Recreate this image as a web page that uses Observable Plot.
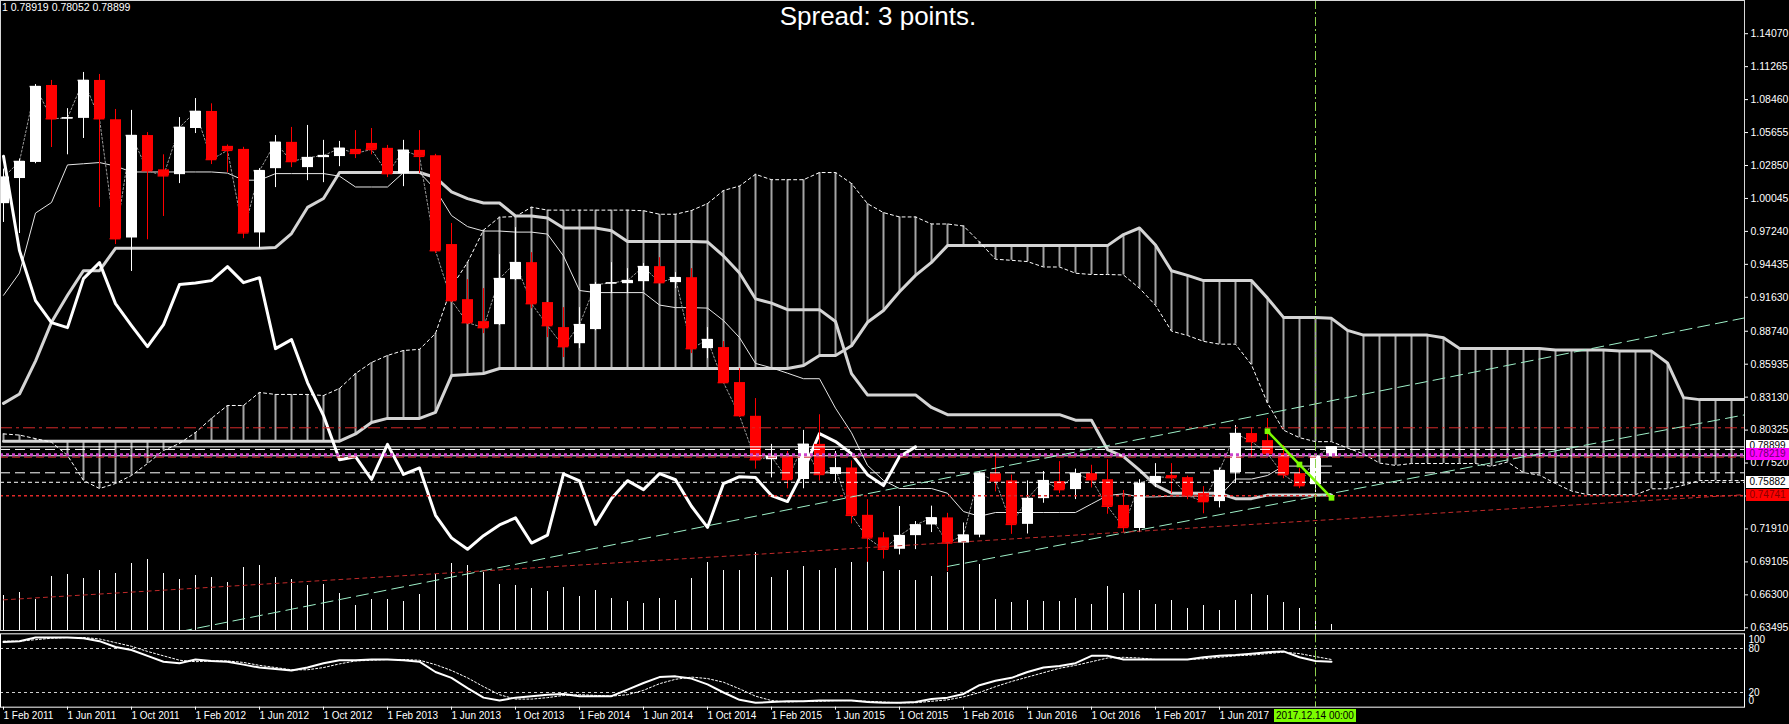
<!DOCTYPE html>
<html>
<head>
<meta charset="utf-8">
<script src="https://cdn.jsdelivr.net/npm/d3@7"></script>
<script src="https://cdn.jsdelivr.net/npm/@observablehq/plot@0.6"></script>
<style>
  html, body { margin: 0; padding: 0; background: #000; }
  #wrap { position: relative; width: 1789px; height: 724px; overflow: hidden; background: #000; font-family: 'Liberation Sans', Arial, sans-serif; }
  #wrap svg { position: absolute; left: 0; }
  .box { position: absolute; font-size: 10px; line-height: 12px; height: 12px; text-align: center; }
</style>
</head>
<body>
<div id="wrap"></div>
<script>
// ---------- DATA (monthly bars, index 0 = Feb 2011) ----------
const headerText = "1 0.78919 0.78052 0.78899";
const titleText = "Spread: 3 points.";

const priceLabels = ["1.14070","1.11265","1.08460","1.05655","1.02850","1.00045","0.97240","0.94435","0.91630","0.88740","0.85935","0.83130","0.80325","0.77520","0.74715","0.71910","0.69105","0.66300","0.63495"];
const xLabels = ["1 Feb 2011","1 Jun 2011","1 Oct 2011","1 Feb 2012","1 Jun 2012","1 Oct 2012","1 Feb 2013","1 Jun 2013","1 Oct 2013","1 Feb 2014","1 Jun 2014","1 Oct 2014","1 Feb 2015","1 Jun 2015","1 Oct 2015","1 Feb 2016","1 Jun 2016","1 Oct 2016","1 Feb 2017","1 Jun 2017"];
const xLabelBars = [0,4,8,12,16,20,24,28,32,36,40,44,48,52,56,60,64,68,72,76];
const markerLabel = "2017.12.14 00:00";
const markerBars = [82];
const stochLevels = [20, 80];

const open = [
0.9960,1.0174,1.0311,1.0966,1.0683,1.0686,1.1009,1.0675,0.9667,1.0540,
1.0248,1.0207,1.0600,1.0745,1.0448,1.0422,0.9711,1.0258,1.0482,1.0267,
1.0352,1.0361,1.0422,1.0473,1.0431,1.0216,1.0414,1.0369,0.9612,0.9143,
0.8956,0.8930,0.9313,0.9458,0.9118,0.8905,0.8768,0.8888,0.9280,0.9279,
0.9296,0.9424,0.9288,0.9330,0.8726,0.8735,0.8437,0.8150,0.7780,0.7806,
0.7612,0.7911,0.7655,0.7710,0.7307,0.7115,0.7018,0.7134,0.7225,0.7285,
0.7071,0.7138,0.7660,0.7600,0.7230,0.7449,0.7594,0.7526,0.7662,0.7610,
0.7391,0.7195,0.7577,0.7645,0.7628,0.7492,0.7424,0.7671,0.8003,0.7943,
0.7832,0.7662,0.7568,0.78061];
const high = [
1.0255,1.0340,1.0974,1.1009,1.0769,1.1077,1.1060,1.0762,1.0754,1.0565,
1.0376,1.0693,1.0855,1.0810,1.0460,1.0440,1.0258,1.0540,1.0609,1.0626,
1.0499,1.0490,1.0582,1.0600,1.0456,1.0499,1.0582,1.0380,0.9791,0.9313,
0.9237,0.9526,0.9756,0.9543,0.9118,0.9075,0.9075,0.9288,0.9458,0.9407,
0.9450,0.9500,0.9373,0.9407,0.8905,0.8786,0.8556,0.8301,0.7911,0.7850,
0.8030,0.8163,0.7850,0.7770,0.7440,0.7160,0.7382,0.7254,0.7385,0.7324,
0.7242,0.7680,0.7835,0.7650,0.7600,0.7680,0.7764,0.7700,0.7733,0.7780,
0.7518,0.7610,0.7747,0.7747,0.7640,0.7551,0.7710,0.8071,0.8054,0.8131,
0.7901,0.7704,0.7807,0.78919];
const low = [
0.9800,0.9706,1.0300,1.0438,1.0376,1.0515,0.9927,0.9612,0.9383,0.9653,
0.9851,1.0131,1.0557,1.0293,1.0224,0.9662,0.9577,1.0097,1.0267,1.0156,
1.0139,1.0275,1.0344,1.0376,1.0182,1.0105,1.0216,0.9535,0.9118,0.8930,
0.8854,0.8922,0.9305,0.9066,0.8820,0.8650,0.8726,0.8879,0.9194,0.9194,
0.9220,0.9279,0.9237,0.8684,0.8641,0.8429,0.8139,0.7700,0.7626,0.7533,
0.7533,0.7599,0.7593,0.7234,0.6907,0.6935,0.6970,0.7015,0.7160,0.6827,
0.6973,0.7116,0.7507,0.7145,0.7148,0.7410,0.7492,0.7441,0.7540,0.7316,
0.7161,0.7160,0.7543,0.7491,0.7440,0.7320,0.7370,0.7577,0.7799,0.7807,
0.7619,0.7534,0.7500,0.78052];
const close = [
1.0185,1.0319,1.0957,1.0683,1.0690,1.1009,1.0683,0.9662,1.0540,1.0241,
1.0197,1.0609,1.0745,1.0336,1.0414,0.9711,1.0241,1.0482,1.0319,1.0352,
1.0369,1.0431,1.0388,1.0422,1.0216,1.0414,1.0363,0.9560,0.9135,0.8947,
0.8905,0.9322,0.9458,0.9109,0.8922,0.8743,0.8930,0.9271,0.9285,0.9305,
0.9424,0.9288,0.9330,0.8726,0.8803,0.8437,0.8156,0.7780,0.7806,0.7612,
0.7911,0.7655,0.7710,0.7307,0.7115,0.7018,0.7134,0.7225,0.7285,0.7071,
0.7138,0.7660,0.7600,0.7230,0.7450,0.7602,0.7526,0.7662,0.7610,0.7384,
0.7204,0.7577,0.7636,0.7628,0.7475,0.7424,0.7688,0.8003,0.7935,0.7832,
0.7653,0.7560,0.7806,0.78899];

const volume = [
35,38,31,54,56,52,60,57,67,71,
57,51,55,53,48,63,65,53,51,45,
46,37,25,31,31,29,36,56,67,65,
58,46,45,42,39,43,34,40,32,29,
27,32,30,52,68,60,60,78,53,60,
64,60,62,68,74,59,60,50,54,58,
80,66,31,28,30,29,29,32,26,44,
37,40,26,30,22,25,20,30,36,35,
28,22,18,6];

const tenkan = [
0.918,0.937,0.988,0.997,1.029,1.030,1.031,1.028,1.023,1.023,
1.023,1.023,1.023,1.023,1.022,1.016,1.016,1.0216,1.0216,1.0216,
1.0216,1.0194,1.0102,1.0102,1.0102,1.0225,1.0225,1.0080,0.9859,0.9765,
0.9727,0.9727,0.9718,0.9718,0.9701,0.9515,0.9221,0.9203,0.9203,0.9203,
0.9203,0.9097,0.9075,0.9075,0.9071,0.8965,0.8820,0.8600,0.8563,0.8517,
0.8470,0.8470,0.8219,0.8010,0.7732,0.7604,0.7535,0.7535,0.7535,0.7495,
0.7339,0.7299,0.7331,0.7331,0.7331,0.7331,0.7331,0.7331,0.7404,0.7476,
0.7490,0.7463,0.7464,0.7470,0.7470,0.7470,0.7470,0.7616,0.7616,0.7646,
0.7726,0.7726,0.7726,0.7726];
const kijun = [
0.826,0.834,0.862,0.895,0.918,0.939,0.939,0.958,0.958,0.958,
0.958,0.958,0.958,0.958,0.958,0.958,0.958,0.9587,0.9706,0.9928,
1.0004,1.0225,1.0225,1.0225,1.0225,1.0225,1.0225,1.0183,1.0060,1.0003,
0.9966,0.9966,0.9855,0.9855,0.9838,0.9753,0.9753,0.9753,0.9730,0.9638,
0.9638,0.9638,0.9638,0.9638,0.9634,0.9515,0.9370,0.9150,0.9113,0.9058,
0.9058,0.9058,0.8957,0.8513,0.8332,0.8332,0.8332,0.8332,0.8225,0.8164,
0.8164,0.8164,0.8164,0.8164,0.8164,0.8164,0.8164,0.8117,0.8117,0.7866,
0.7807,0.7692,0.7564,0.7495,0.7495,0.7495,0.7495,0.7449,0.7449,0.7479,
0.7479,0.7479,0.7479,0.7479];
const spanA = [
0.800,0.799,0.796,0.793,0.7816,0.7604,0.7535,0.7578,0.7646,0.7748,
0.7859,0.7919,0.8012,0.8132,0.8242,0.8242,0.8353,0.8336,0.8336,0.8336,
0.8327,0.8387,0.8514,0.8608,0.8668,0.8710,0.872,0.8855,0.925,0.946,
0.9735,0.9845,0.985,0.993,0.9905,0.9905,0.9905,0.9905,0.9905,0.9905,
0.990,0.987,0.987,0.9902,0.9961,1.0072,1.011,1.0210,1.0164,1.0164,
1.0164,1.0225,1.0225,1.0132,0.9960,0.9884,0.9847,0.9847,0.9787,0.9787,
0.9770,0.9634,0.9487,0.9478,0.9467,0.9421,0.9421,0.9368,0.9357,0.9357,
0.9353,0.9240,0.9095,0.8875,0.8838,0.8788,0.8764,0.8764,0.8588,0.8262,
0.8032,0.7968,0.7934,0.7934,0.7880,0.7830,0.7752,0.7732,0.7748,0.7748,
0.7748,0.7748,0.7748,0.7724,0.7761,0.7671,0.7649,0.7578,0.7514,0.7483,
0.7483,0.7483,0.7483,0.7533,0.7533,0.7563,0.7603,0.7603,0.7603,0.7603];
const spanB = [
0.7938,0.7938,0.7938,0.7938,0.7938,0.7938,0.7938,0.7938,0.7938,0.7938,
0.7938,0.7938,0.7938,0.7938,0.7938,0.7938,0.7938,0.7938,0.7938,0.7938,
0.7938,0.7938,0.8000,0.8097,0.8132,0.8132,0.8132,0.8183,0.8497,0.8505,
0.8514,0.8557,0.8557,0.8557,0.8557,0.8557,0.8557,0.8557,0.8557,0.8557,
0.8557,0.8557,0.8557,0.8557,0.8557,0.8557,0.8557,0.8557,0.8557,0.8557,
0.8583,0.8668,0.8668,0.8750,0.8950,0.9050,0.9210,0.9350,0.9460,0.9603,
0.9603,0.9603,0.9603,0.9603,0.9603,0.9603,0.9603,0.9603,0.9603,0.9603,
0.9697,0.9753,0.9608,0.9389,0.9350,0.9305,0.9305,0.9305,0.9305,0.9156,
0.8992,0.8992,0.8992,0.8984,0.8881,0.8841,0.8841,0.8841,0.8841,0.8841,
0.8819,0.8727,0.8727,0.8727,0.8727,0.8727,0.8727,0.8714,0.8714,0.8714,
0.8714,0.8705,0.8705,0.8705,0.8604,0.8309,0.8292,0.8292,0.8292,0.8292];

const stochMain = [
89,90,95,95,95,94,90,82,78,70,
62,60,65,63,62,58,54,52,50,54,
60,64,64,65,65,64,62,48,40,26,
13,9,13,15,17,18,15,15,15,24,
33,41,42,39,31,20,10,6,7,8,
8,9,9,9,7,6,6,7,11,13,
18,30,36,40,48,54,56,60,70,70,
65,65,65,65,65,68,70,71,73,75,
76,68,63,62];
const stochSignal = [
90,90,92,94,95,95,93,88,83,76,
70,64,62,63,63,61,57,54,51,51,
54,59,63,64,65,65,64,58,50,40,
28,17,11,11,13,16,17,16,15,17,
23,32,38,41,39,34,25,15,9,7,
8,8,9,9,8,7,6,6,8,10,
14,20,28,35,41,47,53,57,62,67,
68,67,65,65,65,66,68,70,71,73,
75,73,69,65];

// horizontal levels (price)
const redDashDotLevels = [0.80521];
const whiteSolidLevels = [0.78899, 0.7814];
const whiteLongDashLevels = [0.78676, 0.76689];
const magentaLevels = [0.78219];
const redDashLevels = [0.78018];
const whiteShortDashLevels = [0.75882];
const redDotLevels = [0.74741];
// trend lines: [bar index, price]
const upperChannel = [[0, 0.6016], [110, 0.9020]];
const lowerChannel = [[59, 0.68716], [110, 0.81928]];
const redTrend = [[-1, 0.65792], [110, 0.74927]];
const limeSegment = [[79, 0.8023], [81, 0.77395], [83, 0.7456]];

// ---------- BUILD ----------
const W = 1789;
const barDomain = [-0.1875, 108.8125];
const priceDomain = [0.63265, 1.16896];
const bars = open.map((o, i) => ({i, o, h: high[i], l: low[i], c: close[i]}));
const bulls = bars.filter(d => d.c >= d.o);
const bears = bars.filter(d => d.c < d.o);
const ind = tenkan.map((t, i) => ({i, t, k: kijun[i]}));
const cloud = spanA.map((a, i) => ({i, a, b: spanB[i]}));
const chikou = close.slice(26).map((p, k) => ({i: k, p}));
const vols = volume.map((v, i) => ({i, v}));
const toPts = arr => arr.map(([i, p]) => ({i, p}));
const stoch = stochMain.map((m, i) => ({i, m, s: stochSignal[i]}));
const labelOf = new Map(priceLabels.map(s => [Number(s), s]));
const xLabelOf = new Map(xLabelBars.map((b, k) => [b, xLabels[k]]));
const font = "'Liberation Sans', Arial, sans-serif";
const baseStyle = {background: "transparent", color: "white", fontFamily: font, fontSize: "10px", overflow: "visible"};

const wrap = document.getElementById("wrap");

// volume layer (under price chart)
const volPlot = Plot.plot({
  width: W, height: 632, marginLeft: 0, marginRight: 45, marginTop: 0, marginBottom: 2,
  x: {domain: barDomain, axis: null},
  y: {domain: [0, 630], axis: null},
  style: baseStyle,
  marks: [
    Plot.ruleX(vols, {x: "i", y1: 0, y2: "v", stroke: "#ffffff", strokeWidth: 1})
  ]
});
volPlot.style.top = "0px";
wrap.appendChild(volPlot);

const main = Plot.plot({
  width: W, height: 632, marginLeft: 0, marginRight: 45, marginTop: 0, marginBottom: 2,
  x: {domain: barDomain, axis: null},
  y: {domain: priceDomain, axis: null},
  style: baseStyle,
  marks: [
    // cloud
    Plot.ruleX(cloud, {x: "i", y1: "a", y2: "b", stroke: "#a4a4a4", strokeWidth: 2, clip: true}),
    Plot.line(cloud, {x: "i", y: "b", stroke: "#d4d4d4", strokeWidth: 3, clip: true}),
    Plot.line(cloud, {x: "i", y: "a", stroke: "#ffffff", strokeWidth: 1, strokeDasharray: "3,3", clip: true}),
    // kijun / tenkan / close line
    Plot.line(ind, {x: "i", y: "k", stroke: "#d4d4d4", strokeWidth: 3}),
    Plot.line(ind, {x: "i", y: "t", stroke: "#e6e6e6", strokeWidth: 1}),
    Plot.line(bars, {x: "i", y: "c", stroke: "#9a9a9a", strokeWidth: 1, strokeDasharray: "2,2"}),
    // chikou
    Plot.line(chikou, {x: "i", y: "p", stroke: "#ffffff", strokeWidth: 3}),
    // candles
    Plot.ruleX(bulls, {x: "i", y1: "l", y2: "h", stroke: "#ffffff", strokeWidth: 1}),
    Plot.ruleX(bears, {x: "i", y1: "l", y2: "h", stroke: "#ff0000", strokeWidth: 1}),
    Plot.ruleX(bulls, {x: "i", y1: "o", y2: "c", stroke: "#ffffff", strokeWidth: 11}),
    Plot.ruleX(bears, {x: "i", y1: "o", y2: "c", stroke: "#ff0000", strokeWidth: 11}),
    Plot.ruleY(bulls, {y: "c", x1: d => d.i - 0.34, x2: d => d.i + 0.34, stroke: "#ffffff", strokeWidth: 1.5}),
    Plot.ruleY(bears, {y: "c", x1: d => d.i - 0.34, x2: d => d.i + 0.34, stroke: "#ff0000", strokeWidth: 1.5}),
    // horizontal levels
    Plot.ruleY(redDashDotLevels, {stroke: "#d42a2a", strokeWidth: 1, strokeDasharray: "12,4,3,4"}),
    Plot.ruleY(whiteSolidLevels, {stroke: "#ffffff", strokeWidth: 1}),
    Plot.ruleY(whiteLongDashLevels, {stroke: "#ffffff", strokeWidth: 1, strokeDasharray: "10,5"}),
    Plot.ruleY(redDashLevels, {stroke: "#d02a2a", strokeWidth: 1, strokeDasharray: "8,4"}),
    Plot.ruleY(magentaLevels, {stroke: "#cc44cc", strokeWidth: 3, strokeDasharray: "3,3"}),
    Plot.ruleY(whiteShortDashLevels, {stroke: "#ffffff", strokeWidth: 1, strokeDasharray: "4,3"}),
    Plot.ruleY(redDotLevels, {stroke: "#e02828", strokeWidth: 1.5, strokeDasharray: "3,3"}),
    // trend lines
    Plot.line(toPts(upperChannel), {x: "i", y: "p", stroke: "#9ef0c8", strokeWidth: 1, strokeDasharray: "12,6", clip: true}),
    Plot.line(toPts(lowerChannel), {x: "i", y: "p", stroke: "#9ef0c8", strokeWidth: 1, strokeDasharray: "12,6", clip: true}),
    Plot.line(toPts(redTrend), {x: "i", y: "p", stroke: "#c02a2a", strokeWidth: 1, strokeDasharray: "4,4", clip: true}),
    Plot.line(toPts(limeSegment), {x: "i", y: "p", stroke: "#7cfc00", strokeWidth: 2.5}),
    Plot.dot(toPts(limeSegment), {x: "i", y: "p", symbol: "square", r: 3.2, fill: "#7cfc00", stroke: "none"}),
    // time marker
    Plot.ruleX(markerBars, {stroke: "#8fd14f", strokeWidth: 1, strokeDasharray: "9,3,2,3"}),
    Plot.frame({stroke: "#d8d8d8"}),
    Plot.axisY({anchor: "right", ticks: priceLabels.map(Number), tickFormat: d => labelOf.get(d), tickSize: 3, tickPadding: 3, color: "white", fontSize: 10.5, label: null})
  ]
});
main.style.top = "0px";
wrap.appendChild(main);

const stochPlot = Plot.plot({
  width: W, height: 92, marginLeft: 0, marginRight: 45, marginTop: 1.33, marginBottom: 17.33,
  x: {domain: barDomain, axis: null},
  y: {domain: [0, 100], axis: null},
  style: baseStyle,
  marks: [
    Plot.ruleY(stochLevels, {stroke: "#d0d0d0", strokeWidth: 1, strokeDasharray: "3,3"}),
    Plot.line(stoch, {x: "i", y: "s", stroke: "#ffffff", strokeWidth: 1, strokeDasharray: "2,2"}),
    Plot.line(stoch, {x: "i", y: "m", stroke: "#ffffff", strokeWidth: 2}),
    Plot.ruleX(markerBars, {stroke: "#8fd14f", strokeWidth: 1, strokeDasharray: "9,3,2,3"}),
    Plot.frame({stroke: "#ffffff"}),
    Plot.axisX({anchor: "bottom", ticks: xLabelBars, tickFormat: d => xLabelOf.get(d), tickSize: 3, tickPadding: 2, textAnchor: "start", color: "white", fontSize: 10, label: null}),
    Plot.text([100], {y: d => d, text: d => String(d), frameAnchor: "right", dx: 4, dy: 6, textAnchor: "start", fill: "white", fontSize: 10}),
    Plot.text(stochLevels, {y: d => d, text: d => String(d), frameAnchor: "right", dx: 4, textAnchor: "start", fill: "white", fontSize: 10}),
    Plot.text([0], {y: d => d, text: d => String(d), frameAnchor: "right", dx: 4, dy: -6, textAnchor: "start", fill: "white", fontSize: 10})
  ]
});
stochPlot.style.top = "632px";
wrap.appendChild(stochPlot);

// right-axis price boxes (positioned through the plot's y scale)
const ys = main.scale("y");
function addBox(value, bg, fg) {
  const d = document.createElement("div");
  d.className = "box";
  d.style.left = "1746px";
  d.style.width = "43px";
  d.style.top = (ys.apply(value) - 6) + "px";
  d.style.background = bg;
  d.style.color = fg;
  d.textContent = value.toFixed(5);
  wrap.appendChild(d);
}
whiteSolidLevels.slice(0, 1).forEach(v => addBox(v, "#ffffff", "#000000"));
magentaLevels.forEach(v => addBox(v, "#ff00ff", "#6a006a"));
whiteShortDashLevels.forEach(v => addBox(v, "#ffffff", "#000000"));
redDotLevels.forEach(v => addBox(v, "#ff0000", "#8a0000"));

// time marker label
const xs = stochPlot.scale("x");
const mk = document.createElement("div");
mk.className = "box";
mk.style.left = (xs.apply(markerBars[0]) - 41) + "px";
mk.style.width = "82px";
mk.style.top = (632 + 77) + "px";
mk.style.height = "13px";
mk.style.lineHeight = "13px";
mk.style.background = "#7cfc00";
mk.style.color = "#000";
mk.textContent = markerLabel;
wrap.appendChild(mk);

// header and title
const hd = document.createElement("div");
hd.style.cssText = "position:absolute;left:2px;top:1px;font-size:10.5px;line-height:13px;color:#fff;white-space:nowrap;";
hd.textContent = headerText;
wrap.appendChild(hd);
const tt = document.createElement("div");
tt.style.cssText = "position:absolute;left:0;width:1756px;top:1px;text-align:center;font-size:26px;line-height:30px;color:#fff;";
tt.textContent = titleText;
wrap.appendChild(tt);
</script>
</body>
</html>
